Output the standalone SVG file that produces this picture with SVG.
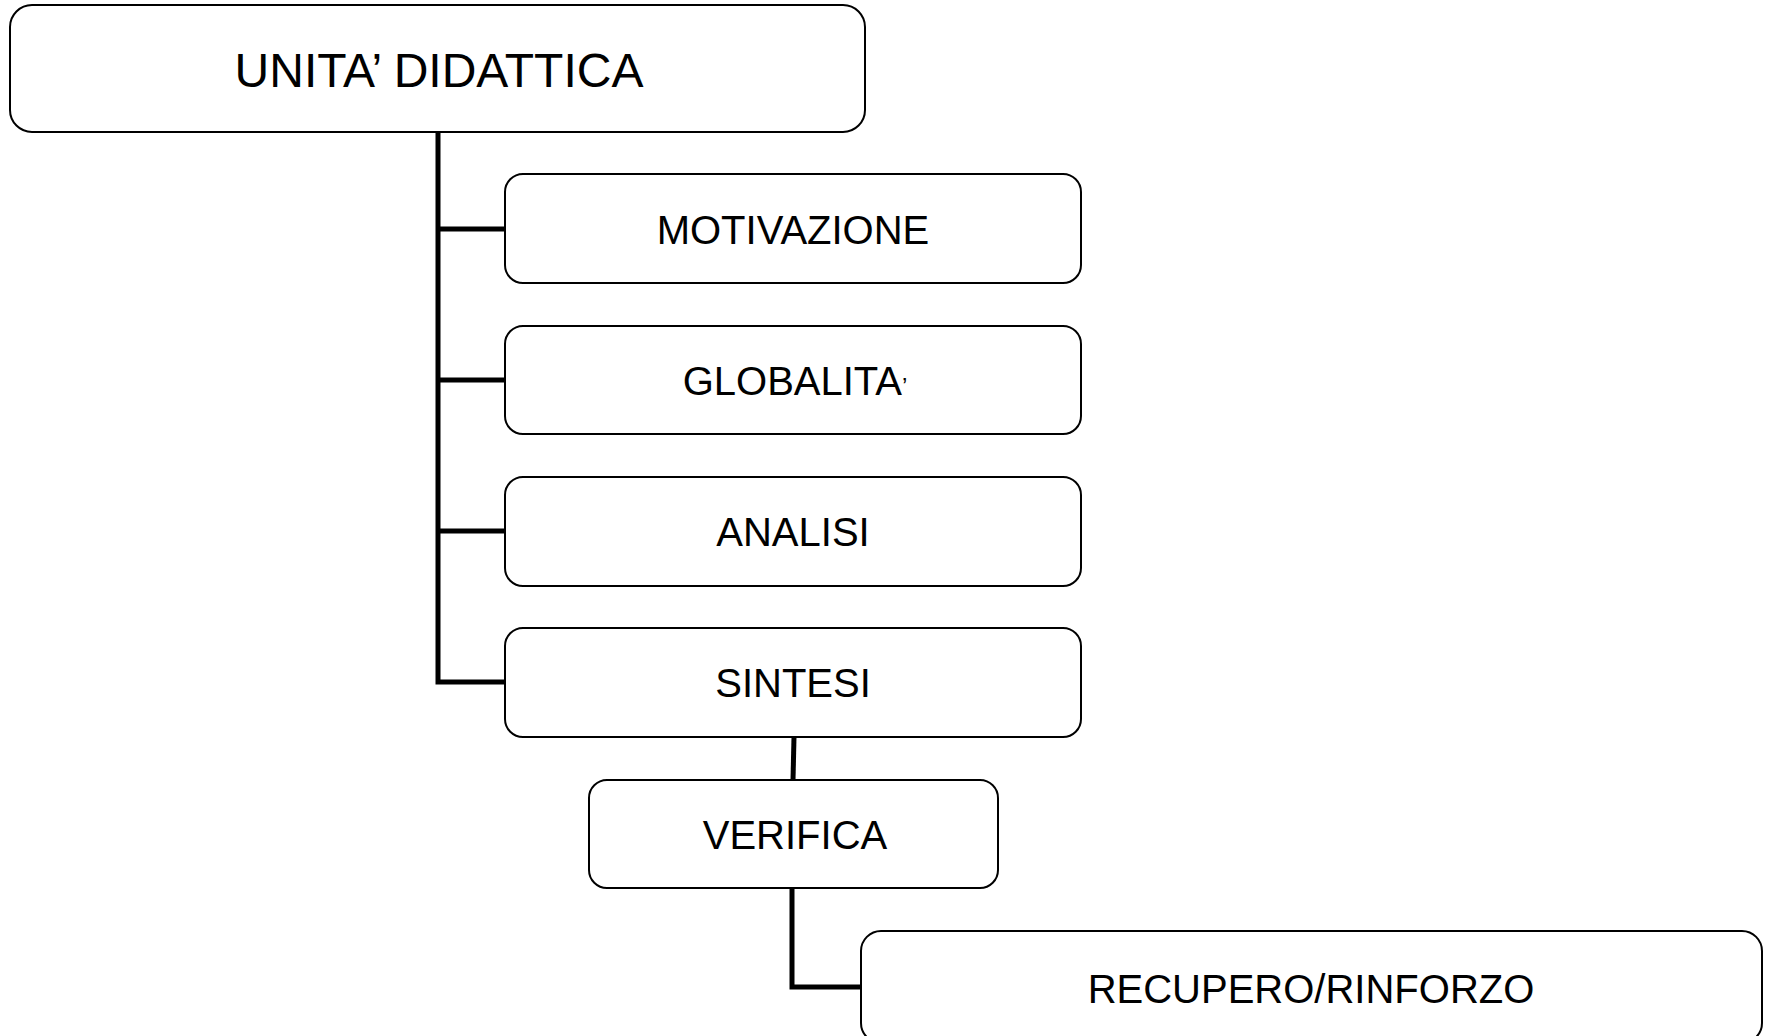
<svg xmlns="http://www.w3.org/2000/svg" width="1770" height="1036" viewBox="0 0 1770 1036">
<style>
.box{fill:#ffffff;stroke:#000000;stroke-width:2}
.lbl{font-family:"Liberation Sans",Arial,sans-serif;font-size:40px;fill:#000000;text-anchor:middle}
.conn{fill:none;stroke:#000000;stroke-width:5;stroke-linejoin:miter}
</style>
<rect width="1770" height="1036" fill="#ffffff"/>
<g id="connectors">
<path class="conn" d="M438,132 V682 H505"/>
<path class="conn" d="M438,229 H505"/>
<path class="conn" d="M438,380 H505"/>
<path class="conn" d="M438,531 H505"/>
<path class="conn" d="M794,737 L793,780"/>
<path class="conn" d="M792,888 V987 H861"/>
</g>
<g id="unita">
<rect class="box" x="10" y="5" width="855" height="127" rx="22" ry="22"/>
<text class="lbl" x="439" y="87" style="font-size:48px">UNITA’ DIDATTICA</text>
</g>
<g id="motivazione">
<rect class="box" x="505" y="174" width="576" height="109" rx="18" ry="18"/>
<text class="lbl" x="793" y="244">MOTIVAZIONE</text>
</g>
<g id="globalita">
<rect class="box" x="505" y="326" width="576" height="108" rx="18" ry="18"/>
<text class="lbl" x="795" y="395">GLOBALITA<tspan style="font-size:24px">’</tspan></text>
</g>
<g id="analisi">
<rect class="box" x="505" y="477" width="576" height="109" rx="18" ry="18"/>
<text class="lbl" x="793" y="546">ANALISI</text>
</g>
<g id="sintesi">
<rect class="box" x="505" y="628" width="576" height="109" rx="18" ry="18"/>
<text class="lbl" x="793" y="697">SINTESI</text>
</g>
<g id="verifica">
<rect class="box" x="589" y="780" width="409" height="108" rx="18" ry="18"/>
<text class="lbl" x="795" y="849">VERIFICA</text>
</g>
<g id="recupero">
<rect class="box" x="861" y="931" width="901" height="112" rx="20" ry="20"/>
<text class="lbl" x="1311" y="1003">RECUPERO/RINFORZO</text>
</g>
</svg>
